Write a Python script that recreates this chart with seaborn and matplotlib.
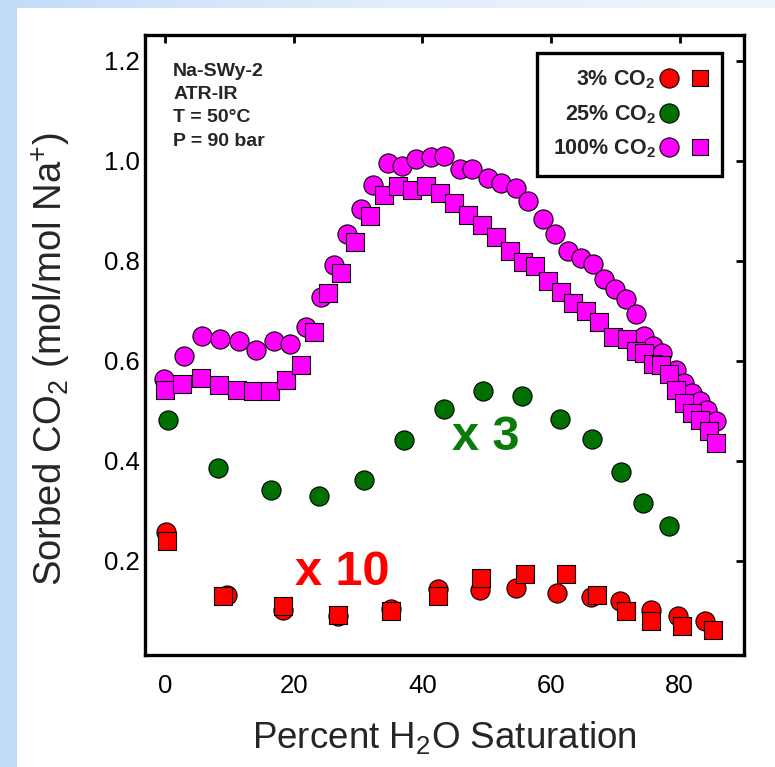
import numpy as np
import pandas as pd
import matplotlib
matplotlib.use("Agg")
import matplotlib.pyplot as plt
import seaborn as sns
from matplotlib.lines import Line2D
from matplotlib.legend_handler import HandlerTuple
from matplotlib.patches import Rectangle
from matplotlib.colors import LinearSegmentedColormap

# ---------------- data ----------------
red_circ_x = [0.2, 9.6, 18.3, 26.9, 35.2, 42.4, 48.9, 54.5, 60.9, 66.2, 70.8, 75.5, 79.7, 83.9]
red_circ_y = [0.258, 0.132, 0.102, 0.089, 0.104, 0.143, 0.142, 0.145, 0.135, 0.127, 0.119, 0.102, 0.089, 0.079]

red_sq_x = [0.3, 9.1, 18.3, 26.9, 35.2, 42.5, 49.2, 56.0, 62.3, 67.2, 71.7, 75.5, 80.3, 85.2]
red_sq_y = [0.239, 0.130, 0.109, 0.092, 0.099, 0.129, 0.165, 0.173, 0.173, 0.132, 0.100, 0.079, 0.069, 0.062]

green_x = [0.4, 8.3, 16.5, 23.9, 31.0, 37.2, 43.3, 49.4, 55.5, 61.4, 66.4, 70.9, 74.3, 78.3]
green_y = [0.482, 0.385, 0.342, 0.329, 0.362, 0.442, 0.504, 0.540, 0.529, 0.484, 0.443, 0.377, 0.315, 0.270]

mag_circ_x = [-0.2, 3.0, 5.8, 8.6, 11.5, 14.2, 16.9, 19.4, 21.9, 24.2, 26.2, 28.3, 30.4, 32.4, 34.7,
              36.8, 39.0, 41.3, 43.4, 45.8, 47.8, 50.2, 52.2, 54.6, 56.5, 58.7, 60.7, 62.6, 64.7, 66.5,
              68.3, 70.0, 71.6, 73.2, 74.4, 75.8, 77.2, 79.4, 80.7, 81.9, 83.2, 84.3, 85.6]
mag_circ_y = [0.563, 0.609, 0.649, 0.643, 0.639, 0.622, 0.640, 0.634, 0.667, 0.727, 0.792, 0.853, 0.904, 0.952, 0.995,
              0.990, 1.004, 1.007, 1.009, 0.983, 0.983, 0.965, 0.955, 0.945, 0.919, 0.883, 0.853, 0.819, 0.805, 0.793,
              0.764, 0.744, 0.724, 0.693, 0.649, 0.630, 0.615, 0.582, 0.555, 0.535, 0.519, 0.502, 0.479]

mag_sq_x = [0.0, 2.7, 5.6, 8.4, 11.2, 13.7, 16.4, 18.8, 21.2, 23.2, 25.3, 27.3, 29.6, 31.8, 34.0,
            36.2, 38.4, 40.6, 42.7, 45.0, 47.1, 49.3, 51.4, 53.6, 55.7, 57.5, 59.6, 61.6, 63.4, 65.4,
            67.4, 69.6, 71.8, 73.2, 74.5, 75.8, 77.1, 78.3, 79.4, 80.7, 81.9, 83.2, 84.6, 85.7]
mag_sq_y = [0.541, 0.554, 0.565, 0.551, 0.542, 0.540, 0.539, 0.561, 0.592, 0.657, 0.735, 0.775, 0.837, 0.889, 0.931,
            0.949, 0.941, 0.950, 0.936, 0.915, 0.892, 0.872, 0.847, 0.820, 0.797, 0.790, 0.760, 0.737, 0.715, 0.699,
            0.677, 0.647, 0.643, 0.619, 0.615, 0.593, 0.591, 0.573, 0.542, 0.515, 0.495, 0.482, 0.459, 0.435]

x_ticks = [0, 20, 40, 60, 80]
y_ticks = [0.2, 0.4, 0.6, 0.8, 1.0, 1.2]
y_tick_labels = ["0.2", "0.4", "0.6", "0.8", "1.0", "1.2"]
legend_labels = [r"3% CO$_\mathbf{2}$", r"25% CO$_\mathbf{2}$", r"100% CO$_\mathbf{2}$"]
info_text = "Na-SWy-2\nATR-IR\nT = 50°C\nP = 90 bar"

# ---------------- style ----------------
sns.set_theme(style="white")
plt.rcParams['font.family'] = ['Liberation Sans', 'DejaVu Sans']
plt.rcParams['mathtext.fontset'] = 'custom'
plt.rcParams['mathtext.rm'] = 'Liberation Sans'
plt.rcParams['mathtext.bf'] = 'Liberation Sans:bold'
plt.rcParams['mathtext.it'] = 'Liberation Sans:italic'

RED = "#ff0000"
GREEN = "#007000"
MAG = "#ff00ff"

W, H = 775, 767
fig = plt.figure(figsize=(W / 100, H / 100), dpi=100)

# background gradient + white panel
bg = fig.add_axes([0, 0, 1, 1], zorder=-10)
grad = np.linspace(0, 1, 256)[None, :]
cm = LinearSegmentedColormap.from_list("bgc", ["#c3dcfa", "#e2eefb", "#eef5fd"])
bg.imshow(grad, aspect="auto", cmap=cm, extent=[0, 1, 0, 1])
bg.add_patch(Rectangle((17 / W, 0), 1, (H - 8) / H, transform=bg.transAxes,
                       facecolor="white", edgecolor="none"))
bg.set_xlim(0, 1); bg.set_ylim(0, 1)
bg.axis("off")

ax = fig.add_axes([145 / W, (H - 655) / H, (744 - 145) / W, (655 - 35) / H])
ax.set_facecolor("white")

def df(x, y):
    return pd.DataFrame({"x": x, "y": y})

kw_c = dict(marker="o", s=190, edgecolor="black", linewidth=0.8, ax=ax, legend=False)
kw_s = dict(marker="s", s=150, edgecolor="black", linewidth=0.8, ax=ax, legend=False)

sns.scatterplot(data=df(green_x, green_y), x="x", y="y", color=GREEN, zorder=3, **kw_c)
sns.scatterplot(data=df(red_circ_x, red_circ_y), x="x", y="y", color=RED, zorder=3, **kw_c)
sns.scatterplot(data=df(red_sq_x, red_sq_y), x="x", y="y", color=RED, zorder=4, **kw_s)
sns.scatterplot(data=df(mag_circ_x, mag_circ_y), x="x", y="y", color=MAG, zorder=3, **kw_c)
sns.scatterplot(data=df(mag_sq_x, mag_sq_y), x="x", y="y", color=MAG, zorder=4, **kw_s)

ax.set_xlim(-3.1, 90.0)
ax.set_ylim(0.0114, 1.2514)
ax.set_xticks(x_ticks)
ax.set_xticklabels([str(t) for t in x_ticks])
ax.set_yticks(y_ticks)
ax.set_yticklabels(y_tick_labels)
ax.tick_params(axis="both", which="both", direction="in", length=6, width=2,
               top=True, right=True, labelsize=18.5, colors="black")
ax.tick_params(axis="y", pad=4)
ax.tick_params(axis="x", pad=14)
for sp in ax.spines.values():
    sp.set_linewidth(2.4)
    sp.set_color("black")

ax.set_xlabel(r"Percent H$_\mathrm{2}$O Saturation", fontsize=26.5, labelpad=15)
ax.set_ylabel(r"Sorbed CO$_\mathrm{2}$ (mol/mol Na$^\mathrm{+}$)", fontsize=27.5, labelpad=22)
ax.yaxis.label.set_y(0.477)

ax.text(0.047, 0.955, info_text, transform=ax.transAxes, fontsize=14, fontweight="bold",
        va="top", ha="left", linespacing=1.48)

ax.text(49.8, 0.447, "x 3", color="#0a7a0a", fontsize=35, fontweight="bold", ha="center", va="center")
ax.text(27.5, 0.177, "x 10", color=RED, fontsize=35, fontweight="bold", ha="center", va="center")

# legend
def mk(marker, color, ms, visible=True):
    return Line2D([], [], linestyle="none", marker=marker, markersize=ms,
                  markerfacecolor=color if visible else "none",
                  markeredgecolor="black" if visible else "none", markeredgewidth=0.8)

handles = [
    (mk("o", RED, 13.8), mk("s", RED, 12)),
    (mk("o", GREEN, 13.8), mk("s", GREEN, 12, visible=False)),
    (mk("o", MAG, 13.8), mk("s", MAG, 12)),
]
leg = ax.legend(handles, legend_labels, handler_map={tuple: HandlerTuple(ndivide=None, pad=0.85)},
                loc="upper right", bbox_to_anchor=(0.963, 0.971), borderaxespad=0,
                markerfirst=False, fancybox=False, framealpha=1, edgecolor="black",
                prop={"weight": "bold", "size": 15.5}, handlelength=2.05, handletextpad=0.3,
                labelspacing=0.56, borderpad=0.72)
leg.get_frame().set_linewidth(2.4)

fig.savefig("out.png", dpi=100, facecolor=fig.get_facecolor())
